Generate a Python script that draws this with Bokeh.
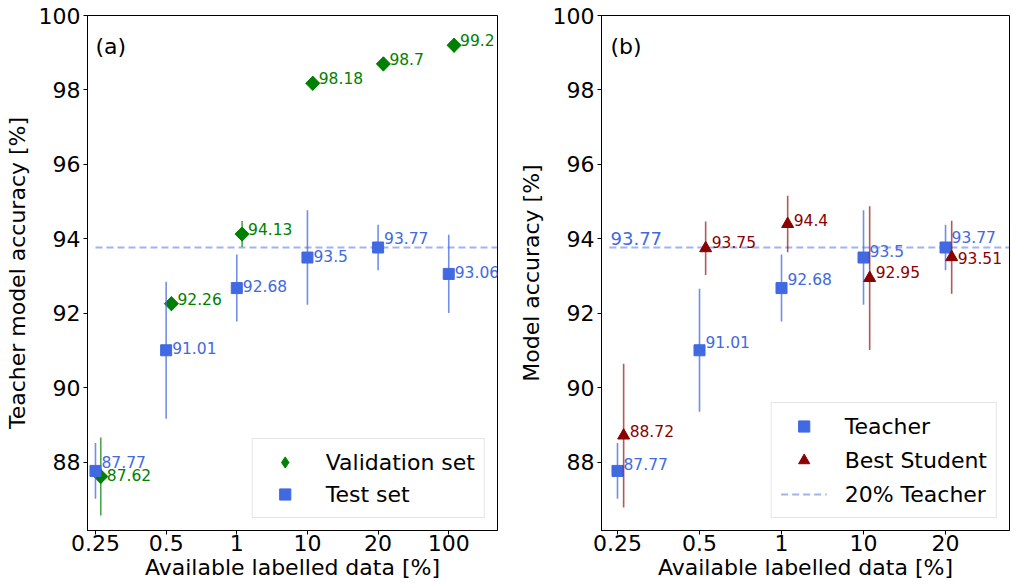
import numpy as np
from bokeh.plotting import figure
from bokeh.models import ColumnDataSource, Range1d, FixedTicker, Legend, LegendItem, Label
from bokeh.layouts import row
from bokeh.embed import file_html
from bokeh.resources import INLINE
from bokeh.core.properties import value

# ---------------- data ----------------
fractions_a = ["0.25", "0.5", "1", "10", "20", "100"]
val_acc = [87.62, 92.26, 94.13, 98.18, 98.7, 99.2]
val_err = [1.05, 0.0, 0.35, 0.0, 0.0, 0.0]
test_acc = [87.77, 91.01, 92.68, 93.5, 93.77, 93.06]
test_err = [0.75, 1.84, 0.90, 1.27, 0.61, 1.05]

fractions_b = ["0.25", "0.5", "1", "10", "20"]
teacher_acc = [87.77, 91.01, 92.68, 93.5, 93.77]
teacher_err = [0.75, 1.65, 0.90, 1.27, 0.61]
student_acc = [88.72, 93.75, 94.4, 92.95, 93.51]
student_err = [1.93, 0.72, 0.76, 1.93, 0.98]
teacher_20 = 93.77

y_ticks = [88, 90, 92, 94, 96, 98, 100]

# ---------------- style ----------------
FONT = "DejaVu Sans"
GREEN = "#008000"
BLUE = "#4169E1"
RED = "#8B0000"
SHIFT = 0.075          # horizontal shift of the second series
LBL_PX = 6             # label offset right of marker (px)
# label lift (px, upwards) per point
lift_val = [2, 5, 5, 5, 5, 5]
lift_test = [9, 2, 2, 2, 9, 2]
lift_teacher = [7, 8, 9, 7, 10]
lift_student = [5, 6, 4, 6, -1]
FIG_H = 584


def base_fig(xlabels, ylabel, xr, width, bl, br):
    p = figure(width=width, height=FIG_H, x_range=Range1d(*xr), y_range=Range1d(86.17, 100),
               output_backend="svg", toolbar_location=None,
               min_border_left=bl, min_border_right=br, min_border_top=15, min_border_bottom=54)
    p.xgrid.visible = False
    p.ygrid.visible = False
    p.outline_line_color = "black"
    p.outline_line_alpha = 1
    p.outline_line_width = 1
    p.xaxis.ticker = FixedTicker(ticks=list(range(len(xlabels))))
    p.xaxis.major_label_overrides = {i: s for i, s in enumerate(xlabels)}
    p.yaxis.ticker = FixedTicker(ticks=y_ticks)
    p.xaxis.axis_label = "Available labelled data [%]"
    p.yaxis.axis_label = ylabel
    for ax in p.xaxis + p.yaxis:
        ax.axis_line_color = "black"
        ax.major_tick_line_color = "black"
        ax.minor_tick_line_color = None
        ax.major_tick_in = 0
        ax.major_tick_out = 4
        ax.major_label_text_font = FONT
        ax.major_label_text_font_size = "22px"
        ax.major_label_text_color = "black"
        ax.axis_label_text_font = FONT
        ax.axis_label_text_font_size = "22px"
        ax.axis_label_text_font_style = "normal"
        ax.axis_label_text_color = "black"
        ax.major_label_standoff = 3
        ax.axis_label_standoff = 6
    p.xaxis.major_label_standoff = 0
    p.xaxis.axis_label_standoff = 1
    return p


def series(p, xs, acc, err, lift, color, marker, size, angle, bar_alpha):
    lo = [a - e for a, e in zip(acc, err)]
    hi = [a + e for a, e in zip(acc, err)]
    src = ColumnDataSource(dict(x=xs, y=acc, lo=lo, hi=hi,
                                txt=[f"{a:g}" for a in acc],
                                dy=[-d for d in lift]))
    p.segment(x0="x", y0="lo", x1="x", y1="hi", source=src, line_color=color,
              line_alpha=bar_alpha, line_width=1.6)
    r = p.scatter(x="x", y="y", source=src, marker=marker, size=size, angle=angle,
                  fill_color=color, line_color=color)
    p.text(x="x", y="y", text="txt", source=src, x_offset=LBL_PX, y_offset="dy",
           text_font=value(FONT), text_font_size="15.5px", text_color=color,
           text_baseline="middle", text_align="left")
    return r


def make_legend(items, spacing):
    lg = Legend(items=items, location="bottom_right")
    lg.label_text_font = FONT
    lg.label_text_font_size = "22px"
    lg.label_text_color = "black"
    lg.border_line_color = "#cccccc"
    lg.border_line_width = 1
    lg.background_fill_alpha = 0.8
    lg.padding = 9
    lg.margin = 12
    lg.spacing = spacing
    lg.glyph_width = 46
    lg.glyph_height = 28
    lg.label_height = 28
    lg.label_standoff = 18
    return lg


# ---------------- panel (a) ----------------
na = len(fractions_a)
pa = base_fig(fractions_a, "Teacher model accuracy [%]", (-0.113, 5.69), 505, 87, 8)
pa.segment(x0=[0], y0=[teacher_20], x1=[5.69], y1=[teacher_20], line_color=BLUE,
           line_alpha=0.5, line_width=2, line_dash="7 4")
# legend proxy (diamond), hidden beneath the rotated-square markers
rv_leg = pa.scatter(x=[i + SHIFT for i in range(na)], y=val_acc, marker="diamond", size=14,
                    fill_color=GREEN, line_color=GREEN)
rv = series(pa, [i + SHIFT for i in range(na)], val_acc, val_err, lift_val, GREEN,
            "square", 10, np.pi / 4, 0.7)
rt = series(pa, list(range(na)), test_acc, test_err, lift_test, BLUE,
            "square", 11, 0, 0.75)
pa.add_layout(Label(x=0.0, y=99.17, text="(a)", text_font=FONT, text_font_size="22px",
                    text_baseline="middle", text_color="black"))
pa.add_layout(make_legend([LegendItem(label="Validation set", renderers=[rv_leg]),
                           LegendItem(label="Test set", renderers=[rt])], 4))

# ---------------- panel (b) ----------------
nb = len(fractions_b)
pb = base_fig(fractions_b, "Model accuracy [%]", (-0.195, 4.78), 506, 96, 2)
rl = pb.segment(x0=[-0.1], y0=[teacher_20], x1=[4.78], y1=[teacher_20], line_color=BLUE,
                line_alpha=0.5, line_width=2, line_dash="7 4")
pb.text(x=[-0.085], y=[94.01], text=[f"{teacher_20:g}"], text_font=value(FONT),
        text_font_size="18px", text_color=BLUE, text_baseline="middle", text_align="left")
rte = series(pb, list(range(nb)), teacher_acc, teacher_err, lift_teacher, BLUE,
             "square", 11, 0, 0.75)
rst = series(pb, [i + SHIFT for i in range(nb)], student_acc, student_err, lift_student, RED,
             "triangle", 12, 0, 0.65)
pb.add_layout(Label(x=-0.085, y=99.17, text="(b)", text_font=FONT, text_font_size="22px",
                    text_baseline="middle", text_color="black"))
pb.add_layout(make_legend([LegendItem(label="Teacher", renderers=[rte]),
                           LegendItem(label="Best Student", renderers=[rst]),
                           LegendItem(label="20% Teacher", renderers=[rl])], 6))

layout = row(pa, pb)
open("out.html", "w").write(file_html(layout, INLINE))
